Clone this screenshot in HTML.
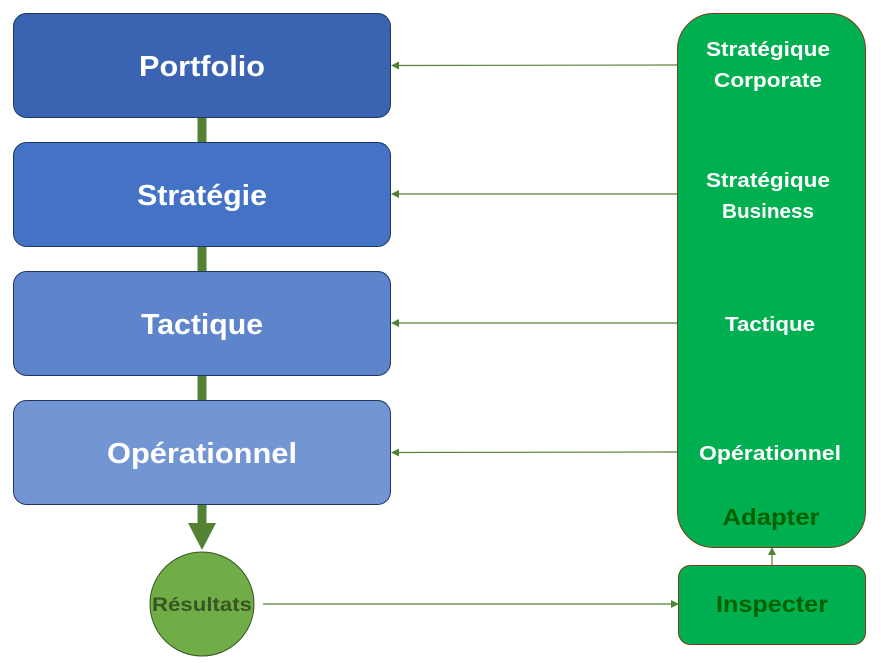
<!DOCTYPE html>
<html><head><meta charset="utf-8"><style>body{margin:0;background:#fff}svg{display:block}text{font-family:"Liberation Sans",sans-serif;font-weight:bold}</style></head>
<body>
<svg width="881" height="663" viewBox="0 0 881 663" xmlns="http://www.w3.org/2000/svg">
<defs><marker id="a" markerWidth="8" markerHeight="8" refX="7" refY="4" orient="auto" markerUnits="userSpaceOnUse"><path d="M0,0 L8,4 L0,8 z" fill="#548235"/></marker></defs>
<rect x="197.5" y="110" width="9" height="420" fill="#548235"/>
<polygon points="188,523 216,523 202,550" fill="#548235"/>
<rect x="13.5" y="13.5" width="377" height="104" rx="13" fill="#3a63b2" stroke="#1f3763"/>
<rect x="13.5" y="142.5" width="377" height="104" rx="13" fill="#4472c4" stroke="#1f3763"/>
<rect x="13.5" y="271.5" width="377" height="104" rx="13" fill="#5e84cc" stroke="#1f3763"/>
<rect x="13.5" y="400.5" width="377" height="104" rx="13" fill="#7295d4" stroke="#1f3763"/>
<g fill="#fff" font-size="29" text-anchor="middle" lengthAdjust="spacingAndGlyphs">
<text x="202" y="76" textLength="126" lengthAdjust="spacingAndGlyphs">Portfolio</text>
<text x="202" y="205" textLength="130" lengthAdjust="spacingAndGlyphs">Stratégie</text>
<text x="202" y="334" textLength="122" lengthAdjust="spacingAndGlyphs">Tactique</text>
<text x="202" y="463" textLength="190" lengthAdjust="spacingAndGlyphs">Opérationnel</text></g>
<circle cx="202" cy="604" r="52" fill="#70ad47" stroke="#375623"/>
<text x="202" y="611" font-size="19" fill="#375623" text-anchor="middle" textLength="100" lengthAdjust="spacingAndGlyphs">Résultats</text>
<rect x="677.5" y="13.5" width="188" height="534" rx="36" fill="#00b050" stroke="#7a3a1a"/>
<rect x="678.5" y="565.5" width="187" height="79" rx="12" fill="#00b050" stroke="#7a3a1a"/>
<g fill="#fff" font-size="20" text-anchor="middle">
<text x="768" y="56" textLength="124" lengthAdjust="spacingAndGlyphs">Stratégique</text>
<text x="768" y="87" textLength="108" lengthAdjust="spacingAndGlyphs">Corporate</text>
<text x="768" y="187" textLength="124" lengthAdjust="spacingAndGlyphs">Stratégique</text>
<text x="768" y="218" textLength="92" lengthAdjust="spacingAndGlyphs">Business</text>
<text x="770" y="331" textLength="90" lengthAdjust="spacingAndGlyphs">Tactique</text>
<text x="770" y="460" textLength="142" lengthAdjust="spacingAndGlyphs">Opérationnel</text></g>
<text x="771" y="525" font-size="23" fill="#006100" text-anchor="middle" textLength="97" lengthAdjust="spacingAndGlyphs">Adapter</text>
<text x="772" y="612" font-size="23" fill="#006100" text-anchor="middle" textLength="112" lengthAdjust="spacingAndGlyphs">Inspecter</text>
<g stroke="#548235" stroke-width="1.2" marker-end="url(#a)">
<line x1="677" y1="65" x2="392" y2="65.5"/><line x1="677" y1="194" x2="392" y2="194"/>
<line x1="677" y1="323" x2="392" y2="323"/><line x1="677" y1="452" x2="392" y2="452.5"/>
<line x1="263" y1="604" x2="678" y2="604"/><line x1="772" y1="565" x2="772" y2="548"/></g>
</svg>
</body></html>
